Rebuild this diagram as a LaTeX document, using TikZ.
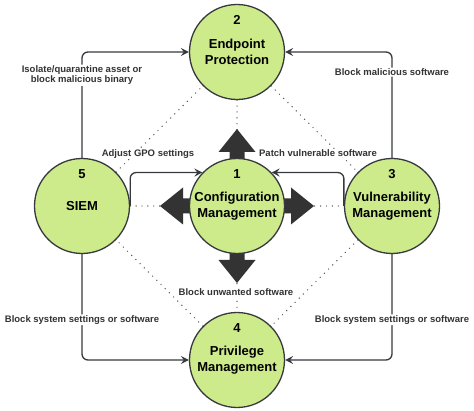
\documentclass[tikz,border=0pt]{standalone}
\usepackage{fontspec}
\setmainfont{Liberation Sans}
\usetikzlibrary{arrows.meta,backgrounds}
\definecolor{cmfill}{HTML}{CDEB8B}
\definecolor{cmline}{HTML}{36393D}
\definecolor{cmtext}{HTML}{333333}
\tikzset{
  ctrl/.style={circle, draw=cmline, line width=1.3pt, fill=cmfill, minimum size=95pt, inner sep=0pt, align=center, font=\fontsize{13}{16}\selectfont\bfseries},
  num/.style={inner sep=0pt, font=\fontsize{13}{16}\selectfont\bfseries},
  flow/.style={draw=cmline, line width=1.3pt, rounded corners=6pt, -{Stealth[length=8pt,width=8pt,inset=3pt]}},
  link/.style={draw=black!70, line width=1.4pt, line cap=round, dash pattern=on 0pt off 5.9pt},
  lbl/.style={fill=white, text=cmtext, inner sep=1pt, align=center, font=\fontsize{9.5}{10.5}\selectfont\bfseries},
  blockarrow/.style={fill=cmtext}
}

\begin{document}
\begin{tikzpicture}[x=1pt,y=1pt]
			%%%%% START %%%%%
			\useasboundingbox (0,0) rectangle (474,410);
			
			\node[ctrl] (c1) at (237,204) {Configuration\\Management};
			\node[ctrl] (c2) at (237,358) {Endpoint\\Protection};
			\node[ctrl] (c3) at (392,204) {Vulnerability\\Management};
			\node[ctrl] (c4) at (237,50) {Privilege\\Management};
			\node[ctrl] (c5) at (82,204) {SIEM};
			
			\foreach \c/\n in {c1/1,c2/2,c3/3,c4/4,c5/5}
				\node[num] (n\n) at ([yshift=32pt]\c.center) {\n};
			
			\begin{scope}[on background layer]
				\draw[link] (c2) -- (c3);
				\draw[link] (c3) -- (c4);
				\draw[link] (c4) -- (c5);
				\draw[link] (c5) -- (c2);
				\draw[link] (c5) -- (c1);
				\draw[link] (c1) -- (c3);
				\draw[link] (c2) -- (c1);
				\draw[link] (c1) -- (c4);
				
				\foreach \a in {0,90,180,270}
					\fill[blockarrow, shift={(c1.center)}, rotate=\a] (0,7.5) -- (54,7.5) -- (54,18.5) -- (77,0) -- (54,-18.5) -- (54,-7.5) -- (0,-7.5) -- cycle;
			\end{scope}
			
			\draw[flow] (c5.north) |- node[lbl, pos=0.39] {Isolate/quarantine asset or\\block malicious binary} (c2.west);
			\draw[flow] (c3.north) |- node[lbl, pos=0.405] {Block malicious software} (c2.east);
			\draw[flow] (c5.south) |- node[lbl, pos=0.31] {Block system settings or software} (c4.west);
			\draw[flow] (c3.south) |- node[lbl, pos=0.31] {Block system settings or software} (c4.east);
			\draw[flow] (c5.east) |- (c1.136);
			\draw[flow] (c3.west) |- (c1.44);
			
			\node[lbl] (gpo) at (148,256) {Adjust GPO settings};
			\node[lbl] (patch) at (318,257) {Patch vulnerable software};
			\node[lbl] (unwanted) at (236,118) {Block unwanted software};
			
			%%%%% END %%%%%
\end{tikzpicture}
\end{document}
